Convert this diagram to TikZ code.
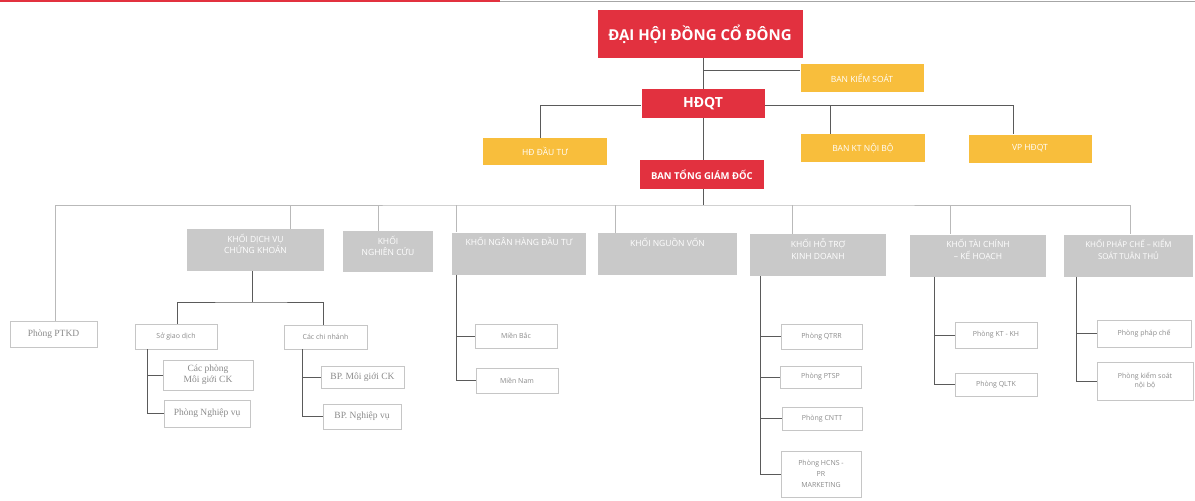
\documentclass[tikz,border=0pt]{standalone}
\usepackage{fontspec}
\setmainfont{Open Sans}
\newfontfamily\serifbox{Liberation Serif}
\definecolor{cred}{HTML}{E2313F}
\definecolor{cyel}{HTML}{F8BE3C}
\definecolor{cgray}{HTML}{C9C9C9}
\definecolor{ctxt}{HTML}{8A8A8A}
\definecolor{cline}{HTML}{5A5A5A}
\begin{document}
\begin{tikzpicture}[x=1pt,y=-1pt,
  box/.style={inner sep=1pt,align=center,minimum width=#1},
  redbox/.style={box=#1,fill=cred,text=white,font=\bfseries},
  yelbox/.style={box=#1,fill=cyel,text=white,font=\fontsize{8.5}{10}\selectfont,minimum height=28pt},
  graybox/.style={box=#1,fill=cgray,minimum height=42pt},
  gl/.style={anchor=north,yshift=-4pt,align=center,text=white,font=\fontsize{8.5}{11.5}\selectfont,inner sep=1pt},
  wbox/.style={box=#1,draw=gray!45,line width=0.5pt,text=ctxt,font=\fontsize{7}{9}\selectfont,minimum height=25pt},
  sbox/.style={wbox=#1,font=\serifbox\fontsize{9.5}{10.5}\selectfont},
  conn/.style={draw=cline,line width=0.9pt},
  lconn/.style={draw=gray!55,line width=0.6pt}]
\useasboundingbox (0,0) rectangle (1195,501);
\draw[cred,line width=2pt] (0,1) -- (500,1);
\draw[gray!70,line width=1pt] (500,1) -- (1195,1);
% top levels
\node[redbox=205pt,minimum height=48pt,font=\bfseries\fontsize{15}{17}\selectfont] (dh) at (700,34) {ĐẠI HỘI ĐỒNG CỔ ĐÔNG};
\node[yelbox=123pt] (bks) at (862,78) {BAN KIỂM SOÁT};
\node[redbox=123pt,minimum height=29pt,font=\bfseries\fontsize{14}{16}\selectfont] (hdqt) at (703,103.5) {HĐQT};
\node[yelbox=124pt,minimum height=27pt] (hddt) at (545,151.5) {HĐ ĐẦU TƯ};
\node[yelbox=124pt] (bkt) at (863,148) {BAN KT NỘI BỘ};
\node[yelbox=123pt] (vp) at (1030,148.5) {VP HĐQT};
\node[redbox=124pt,minimum height=29pt,font=\bfseries\fontsize{9.5}{11}\selectfont] (btgd) at (702,174.5) {BAN TỔNG GIÁM ĐỐC};
\coordinate (jbks) at (703,70);
\draw[conn] (dh.south -| jbks) -- (hdqt.north -| jbks);
\draw[conn] (jbks) -- (bks.west |- jbks);
\draw[conn] (hdqt.south -| jbks) -- (btgd.north -| jbks);
\coordinate (hl) at (540,105);
\coordinate (hr) at (1013,105);
\draw[conn] (hddt.north -| hl) |- (hdqt.west |- hl);
\draw[conn] (hdqt.east |- hr) -| (vp.north -| hr);
\draw[conn] (830,105) -- (bkt.north -| 830,0);
% khoi level
\node[graybox=137pt,label={[gl]north:{KHỐI DỊCH VỤ\\CHỨNG KHOÁN}}] (kdv) at (255.5,250) {};
\node[graybox=90pt,minimum height=41pt,label={[gl]north:{KHỐI\\NGHIÊN CỨU}}] (knc) at (388,251.5) {};
\node[graybox=134pt,label={[gl]north:{KHỐI NGÂN HÀNG ĐẦU TƯ}}] (knh) at (519,253.5) {};
\node[graybox=139pt,label={[gl]north:{KHỐI NGUỒN VỐN}}] (knv) at (667.5,254) {};
\node[graybox=136pt,label={[gl]north:{KHỐI HỖ TRỢ\\KINH DOANH}}] (kht) at (818,255) {};
\node[graybox=136pt,label={[gl]north:{KHỐI TÀI CHÍNH\\– KẾ HOẠCH}}] (ktc) at (978,255.5) {};
\node[graybox=129pt,label={[gl,font=\fontsize{8}{11.5}\selectfont]north:{KHỐI PHÁP CHẾ – KIỂM\\SOÁT TUÂN THỦ}}] (kpc) at (1128.5,255.5) {};
\node[sbox=87pt,minimum height=26pt] (ptkd) at (53.5,334) {Phòng PTKD};
\coordinate (bus) at (703,205);
\draw[conn] (btgd.south -| bus) -- (bus);
\draw[lconn] (ptkd.north -| 55,0) |- (bus) -| (kpc.north -| 1130,0);
\draw[lconn] (290,205) -- (kdv.north -| 290,0);
\draw[lconn] (378,205) -- (knc.north -| 378,0);
\draw[lconn] (456,205) -- (knh.north -| 456,0);
\draw[lconn] (615,205) -- (knv.north -| 615,0);
\draw[lconn] (792,205) -- (kht.north -| 792,0);
\draw[lconn] (950,205) -- (ktc.north -| 950,0);
% dich vu chung khoan subtree
\node[wbox=82pt,minimum height=25pt] (sgd) at (176,336.5) {Sở giao dịch};
\node[wbox=83pt,minimum height=24pt] (ccn) at (325.5,337) {Các chi nhánh};
\node[sbox=90pt,minimum height=30pt,font=\serifbox\fontsize{9.5}{11}\selectfont] (cpmg) at (208,375) {Các phòng\\Môi giới CK};
\node[sbox=86pt,minimum height=27pt] (pnv) at (207,413.5) {Phòng Nghiệp vụ};
\node[sbox=83pt,minimum height=22pt] (bpmg) at (362.5,377.5) {BP. Môi giới CK};
\node[sbox=78pt,minimum height=25pt] (bpnv) at (362,416.5) {BP. Nghiệp vụ};
\coordinate (dvj) at (252,302);
\draw[conn] (kdv.south -| dvj) -- (dvj);
\draw[conn] (sgd.north -| 177,0) |- (dvj) -| (ccn.north -| 323,0);
\draw[conn] (sgd.south -| 147,0) |- (pnv.west);
\draw[conn] (147,375) -- (cpmg.west);
\draw[conn] (ccn.south -| 302,0) |- (bpnv.west);
\draw[conn] (302,377.5) -- (bpmg.west);
% ngan hang dau tu
\node[wbox=82pt,minimum height=24pt] (mb) at (516,336) {Miền Bắc};
\node[wbox=82pt,minimum height=25pt] (mn) at (517,380.5) {Miền Nam};
\draw[conn] (knh.south -| 456,0) |- (mn.west);
\draw[conn] (456,336) -- (mb.west);
% ho tro kinh doanh
\node[wbox=81pt] (qtrr) at (821.5,336.5) {Phòng QTRR};
\node[wbox=81pt,minimum height=22pt] (ptsp) at (820.5,377) {Phòng PTSP};
\node[wbox=80pt,minimum height=23pt] (cntt) at (822,418.5) {Phòng CNTT};
\node[wbox=80pt,minimum height=46pt,font=\fontsize{7}{11}\selectfont] (hcns) at (821,474) {Phòng HCNS -\\PR\\MARKETING};
\draw[conn] (kht.south -| 760,0) |- (hcns.west);
\draw[conn] (760,336.5) -- (qtrr.west);
\draw[conn] (760,377) -- (ptsp.west);
\draw[conn] (760,418.5) -- (cntt.west);
% tai chinh ke hoach
\node[wbox=82pt,minimum height=26pt] (ktkh) at (996,335) {Phòng KT - KH};
\node[wbox=82pt,minimum height=23pt] (qltk) at (996,384.5) {Phòng QLTK};
\draw[conn] (ktc.south -| 934,0) |- (qltk.west);
\draw[conn] (934,335) -- (ktkh.west);
% phap che
\node[wbox=94pt,minimum height=27pt] (ppc) at (1144,333.5) {Phòng pháp chế};
\node[wbox=96pt,minimum height=38pt] (pks) at (1145,381) {Phòng kiểm soát\\nội bộ};
\draw[conn] (kpc.south -| 1076,0) |- (pks.west);
\draw[conn] (1076,333.5) -- (ppc.west);
\end{tikzpicture}
\end{document}
